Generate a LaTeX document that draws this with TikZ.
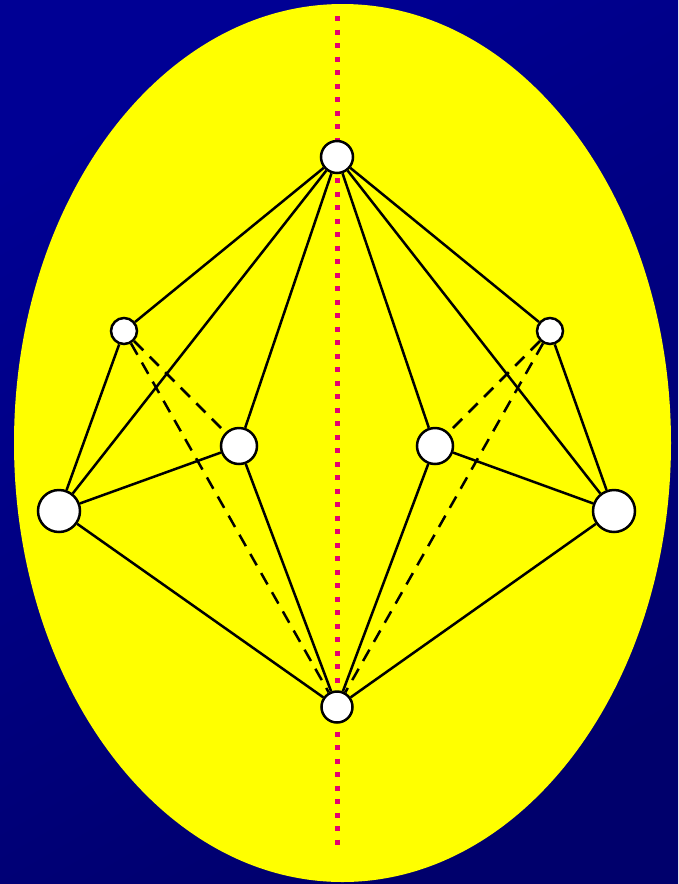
\documentclass[tikz,border=0pt]{standalone}
\usetikzlibrary{calc,positioning}
\definecolor{bgblue}{RGB}{0,0,148}
\definecolor{bgdeep}{RGB}{0,0,108}
\definecolor{eggyellow}{RGB}{255,255,0}
\definecolor{axismagenta}{RGB}{228,0,112}
\tikzset{
  gvertex/.style={circle, draw=black, fill=white, line width=2.5pt,
                  inner sep=0pt},
  gvtop/.style  ={gvertex, minimum size=32pt},
  gvsmall/.style={gvertex, minimum size=26pt},
  gvinner/.style={gvertex, minimum size=36pt},
  gvbig/.style  ={gvertex, minimum size=42pt},
  gvbot/.style  ={gvertex, minimum size=31pt},
  gline/.style  ={line width=2.5pt, black},
  gdash/.style  ={line width=2.5pt, black, dash pattern=on 13pt off 9pt},
  gaxis/.style  ={line width=5pt, axismagenta, dash pattern=on 5pt off 8.5pt},
}
\begin{document}
\begin{tikzpicture}[x=1pt, y=-1pt]
  \useasboundingbox (0,0) rectangle (678,884);
  % background and egg
  \shade[top color=bgblue, bottom color=bgdeep, shading angle=30] (0,0) rectangle (678,884);
  \fill[eggyellow] (342.5,443) ellipse [x radius=328.5, y radius=439];
  % symmetry axis
  \coordinate (axtop) at (337,16);
  \coordinate (axbot) at (337,846);
  \draw[gaxis] (axtop) -- (axbot);
  % vertices
  \node[gvtop]   (t)  at (337,157) {};
  \node[gvsmall] (ul) at (124,331) {};
  \node[gvsmall] (ur) at (550,331) {};
  \node[gvinner] (il) at (239,446) {};
  \node[gvinner] (ir) at (435,446) {};
  \node[gvbig]   (l)  at (59,511)  {};
  \node[gvbig]   (r)  at (614,511) {};
  \node[gvbot]   (b)  at (337,707) {};
  % hidden edges
  \draw[gdash] (ul) -- (il);
  \draw[gdash] (ul) -- (b);
  \draw[gdash] (ur) -- (ir);
  \draw[gdash] (ur) -- (b);
  % visible edges
  \foreach \v in {ul,l,il,ir,r,ur}
    \draw[gline] (t) -- (\v);
  \draw[gline] (ul) -- (l);
  \draw[gline] (l) -- (il);
  \draw[gline] (l) -- (b);
  \draw[gline] (il) -- (b);
  \draw[gline] (ur) -- (r);
  \draw[gline] (ir) -- (r);
  \draw[gline] (r) -- (b);
  \draw[gline] (ir) -- (b);
\end{tikzpicture}
\end{document}
